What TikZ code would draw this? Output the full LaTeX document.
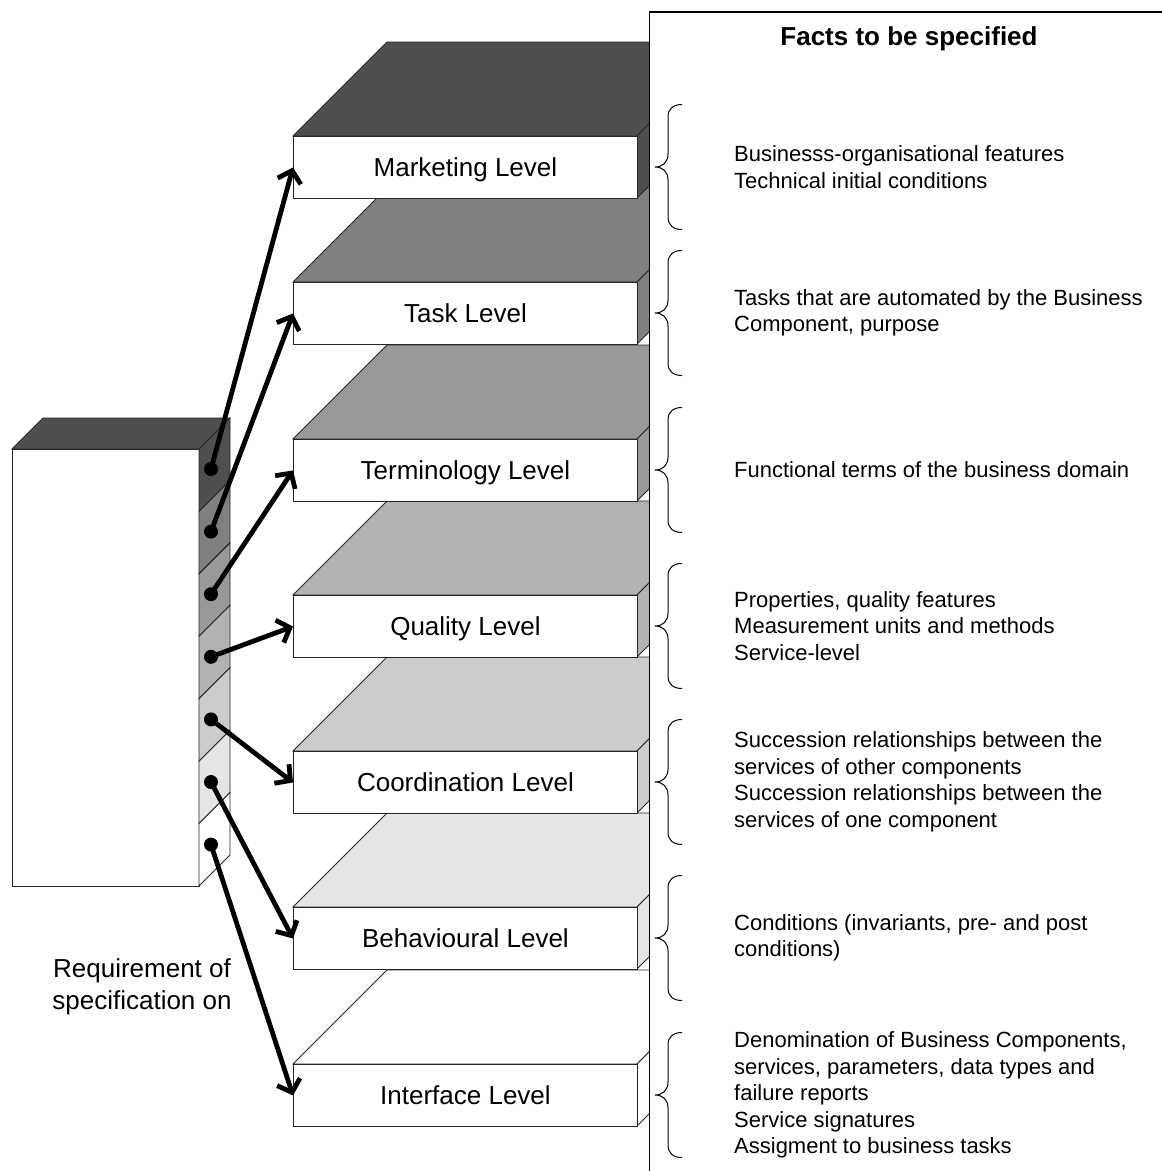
\documentclass[tikz,border=0pt]{standalone}
\usepackage{fontspec}
\setmainfont{Liberation Sans}
\usetikzlibrary{arrows.meta}
\colorlet{lvA}{black!69}
\colorlet{lvB}{black!50}
\colorlet{lvC}{black!40}
\colorlet{lvD}{black!30}
\colorlet{lvE}{black!20}
\colorlet{lvF}{black!10}
\colorlet{lvG}{white}
\newcommand{\lvbox}[4]{%
  % #1 name, #2 top y, #3 colour, #4 text
  \draw[face, fill=#3] (293,#2) -- (387,#2-94) -- (731,#2-94) -- (637,#2) -- cycle;
  \draw[face, fill=#3] (637,#2) -- (731,#2-94) -- (731,#2-32) -- (637,#2+62) -- cycle;
  \node[lvl] (#1) at (293,#2) {#4};
}
\begin{document}
\begin{tikzpicture}[x=1pt,y=-1pt,
  face/.style={draw=black!85, line width=0.9pt, line join=miter},
  lvl/.style={draw=black!85, line width=0.9pt, fill=white, minimum width=344pt, minimum height=62pt,
    inner sep=0pt, text height=18.7pt, text depth=0pt, font=\fontsize{26}{30}\selectfont, anchor=north west},
  conn/.style={line width=4.8pt, -{Straight Barb[length=11pt,width=24pt]}},
  dotmark/.style={circle, fill=black, inner sep=0pt, minimum size=14pt},
  facts/.style={anchor=west, align=left, font=\fontsize{22}{26.5}\selectfont, inner sep=0pt},
  brc/.style={line width=1pt}
]
\useasboundingbox (0,0) rectangle (1162,1171);

% level boxes, drawn from bottom to top
\lvbox{l7}{1064}{lvG}{Interface Level}
\lvbox{l6}{907}{lvF}{Behavioural Level}
\lvbox{l5}{751}{lvE}{Coordination Level}
\lvbox{l4}{595}{lvD}{Quality Level}
\lvbox{l3}{439}{lvC}{Terminology Level}
\lvbox{l2}{282}{lvB}{Task Level}
\lvbox{l1}{136}{lvA}{Marketing Level}

% right panel (covers the far ends of the boxes)
\draw[line width=1.3pt, fill=white] (649.5,12) rectangle (1185,1195);
\node[anchor=base, font=\fontsize{26}{30}\selectfont\bfseries] (hdr) at (909,45) {Facts to be specified};
\foreach \c/\t [count=\k] in {167/{Businesss-organisational features\\Technical initial conditions},
                   313/{Tasks that are automated by the Business\\Component, purpose},
                   470/{Functional terms of the business domain},
                   626/{Properties, quality features\\Measurement units and methods\\Service-level},
                   782/{Succession relationships between the\\services of other components\\Succession relationships between the\\services of one component},
                   938/{Conditions (invariants, pre- and post\\conditions)},
                   1095/{Denomination of Business Components,\\services, parameters, data types and\\failure reports\\Service signatures\\Assigment to business tasks}}{
  \node[facts] (f\k) at (734,\c) {\t};
  \draw[brc] (682,\c-62.5) .. controls (673,\c-62.5) and (668,\c-58) .. (668,\c-50)
     -- (668,\c-13) .. controls (668,\c-5) and (663,\c) .. (655,\c)
     .. controls (663,\c) and (668,\c+5) .. (668,\c+13)
     -- (668,\c+50) .. controls (668,\c+58) and (673,\c+62.5) .. (682,\c+62.5);
}

% left column
\draw[face, fill=white] (12,449) rectangle (199,886);
\draw[face, fill=lvA] (12,449) -- (43,418) -- (230,418) -- (199,449) -- cycle;
\foreach \c [count=\i from 0] in {lvA,lvB,lvC,lvD,lvE,lvF,lvG}{
  \draw[face, fill=\c] (199,{449+62.43*\i}) -- (230,{418+62.43*\i}) -- (230,{480.43+62.43*\i}) -- (199,{511.43+62.43*\i}) -- cycle;
}
\foreach \i in {1,...,7}{
  \node[dotmark] (d\i) at (211,{469+62.6*(\i-1)}) {};
}
\node[align=center, font=\fontsize{26}{31.5}\selectfont, inner sep=0pt] (req) at (142,987) {Requirement of\\specification on};

% connectors
\foreach \i in {1,...,7}{
  \draw[conn] (d\i.center) -- (l\i.west);
}
\end{tikzpicture}
\end{document}
